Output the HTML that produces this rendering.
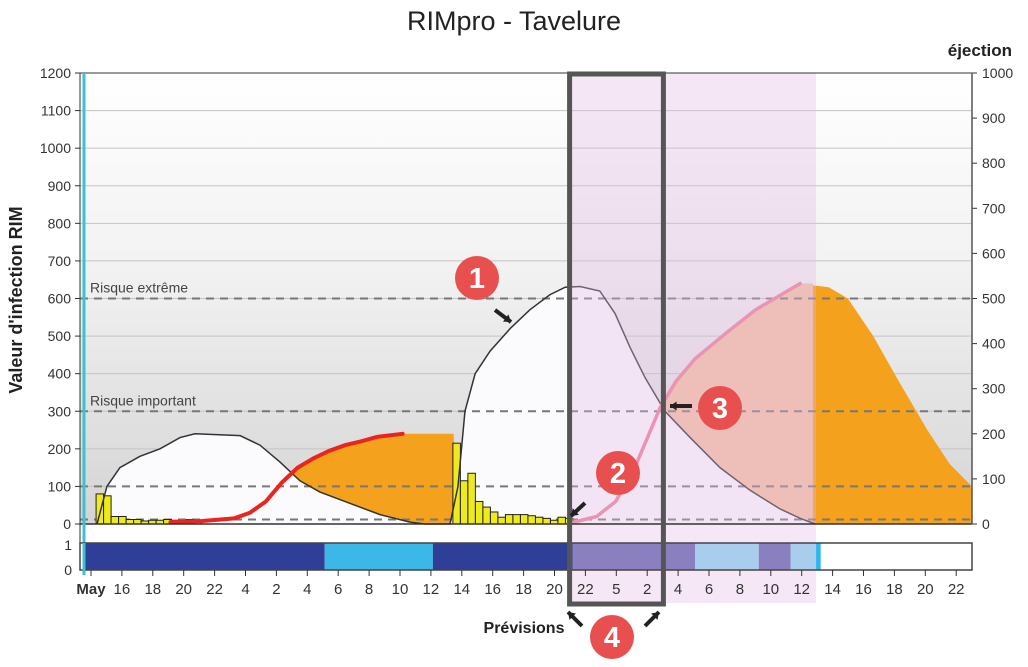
<!DOCTYPE html>
<html><head><meta charset="utf-8"><style>
html,body{margin:0;padding:0;background:#fff;width:1028px;height:667px;overflow:hidden}
svg{display:block;font-family:"Liberation Sans",sans-serif}
</style></head><body>
<svg id="c" width="1028" height="667" viewBox="0 0 1028 667">
<defs><linearGradient id="bg" x1="0" y1="0" x2="0" y2="1"><stop offset="0" stop-color="#ffffff"/><stop offset="0.45" stop-color="#f1f1f1"/><stop offset="1" stop-color="#d4d4d4"/></linearGradient></defs>
<text x="514" y="30" text-anchor="middle" font-size="27" fill="#222">RIMpro - Tavelure</text>
<text x="1012" y="56" text-anchor="end" font-size="17" font-weight="bold" fill="#222">éjection</text>
<text transform="translate(22,300) rotate(-90)" text-anchor="middle" font-size="18" font-weight="bold" fill="#222">Valeur d'infection RIM</text>
<text x="524" y="633" text-anchor="middle" font-size="16" font-weight="bold" fill="#222">Prévisions</text>
<g id="plot"></g>
</svg>
<script>
// ---- data ----
const xTickLabels=["May","16","18","20","22","4","2","4","6","8","10","12","14","16","18","20","22","5","2","4","6","8","10","12","14","16","18","20","22"];
const tickStep=0.9717;
const leftTicks=[0,100,200,300,400,500,600,700,800,900,1000,1100,1200];
const rightTicks=[0,100,200,300,400,500,600,700,800,900,1000];
const riskLevels=[600,300,100,12];
const riskLabels=["Risque extrême","Risque important","",""];
const rimT=[0.19,0.5,0.91,1.54,2.17,2.8,3.27,4.69,5.31,5.94,6.57,7.2,8.14,9.09,10.03,10.5,11.29,11.54,11.76,12.08,12.55,13.18,13.8,14.43,14.91,15.38,16.0,16.48,16.95,17.42,18.05,18.84,19.78,20.72,21.67,22.3,22.77];
const rimV=[0,100,150,180,200,230,240,235,210,165,115,85,55,25,5,0,0,100,300,400,460,520,570,610,630,632,620,560,470,390,300,230,150,90,40,15,0];
const ej1T=[2.5,3.5,4.5,5.0,5.5,6.0,6.5,7.0,7.5,8.0,8.5,9.0,9.8];
const ej1V=[5,8,15,30,60,110,150,175,195,210,220,232,240];
const ej1FlatEnd=11.4;
const ej2T=[15.2,15.9,16.5,17.1,17.6,17.9,18.4,19.0,20.0,20.9,22.3];
const ej2V=[5,20,60,150,250,310,380,440,510,570,640];
const ej3T=[22.7,23.2,23.8,24.6,25.4,26.3,27.0,27.7];
const ej3V=[635,630,600,500,380,250,160,100];
const bars1Start=0.16, bars2Start=11.38, barW=0.236;
const bars1=[80,75,20,20,12,12,8,10,10,12,10,8,12,10];
const bars2=[215,115,135,60,45,32,18,25,25,25,22,18,15,10,18,15];
const segStart=[-0.35,7.35,10.75,15.15,19.0,21.0,22.0,22.8,22.95];
const segEnd=[7.35,10.75,15.15,19.0,21.0,22.0,22.8,22.95,27.95];
const segKind=["dark","light","dark","purple","pale","purple","pale","cyan","none"];
const forecastStart=15.1, forecastEnd=22.8, boxStart=15.05, boxEnd=18.0;

// ---- scales ----
const X0=91,DX=31.8,Y0=524,YT=73,PL=80,PR=972;
const x=t=>X0+t*DX;
const y=v=>Y0-(v/1200)*(Y0-YT);
const yr=v=>Y0-(v/1000)*(Y0-YT);
const NS="http://www.w3.org/2000/svg";
const g=document.getElementById('plot');
function el(tag,attrs,parent){const e=document.createElementNS(NS,tag);for(const k in attrs)e.setAttribute(k,attrs[k]);(parent||g).appendChild(e);return e;}

el('rect',{x:PL,y:YT,width:PR-PL,height:Y0-YT,fill:'url(#bg)'});
leftTicks.forEach(v=>{
  const l=el('line',{x1:PL,x2:PR,y1:y(v),y2:y(v),stroke:'#c4c4c4','stroke-width':1});
  
  
  el('line',{x1:PL-5,x2:PL,y1:y(v),y2:y(v),stroke:'#333'});
  const t=el('text',{x:PL-9,y:y(v)+5,'text-anchor':'end','font-size':14,fill:'#333'});
  t.textContent=v;
  
  
});
rightTicks.forEach(v=>{
  el('line',{x1:PR,x2:PR+5,y1:yr(v),y2:yr(v),stroke:'#333'});
  const t=el('text',{x:PR+10,y:yr(v)+5,'font-size':14,fill:'#333'});
  t.textContent=v;
  
  
});

const pts=(T,V)=>T.map((t,i)=>x(t)+','+y(V[i])).join(' ');
let p1=pts(ej1T,ej1V)+' '+x(ej1FlatEnd)+','+y(ej1V[ej1V.length-1])+' '+x(ej1FlatEnd+0.15)+','+Y0+' '+x(ej1T[0])+','+Y0;
let a=el('polygon',{points:p1,fill:'#f4a11e'});


let p2=pts(ej2T,ej2V)+' '+x(ej3T[0])+','+y(ej2V[ej2V.length-1])+' '+x(ej3T[0])+','+Y0+' '+x(ej2T[0])+','+Y0;
a=el('polygon',{points:p2,fill:'#f5c2a2'});


let p3=x(ej3T[0])+','+Y0+' '+pts(ej3T,ej3V)+' '+PR+','+y(ej3V[ej3V.length-1])+' '+PR+','+Y0;
a=el('polygon',{points:p3,fill:'#f4a11e'});


let pr=x(rimT[0])+','+Y0+' '+pts(rimT,rimV)+' '+x(rimT[rimT.length-1])+','+Y0;
a=el('polygon',{points:pr,fill:'#fbfbfd'});


riskLevels.forEach((v,i)=>{
  const l=el('line',{x1:PL,x2:PR,y1:y(v),y2:y(v),stroke:'#777','stroke-width':2,'stroke-dasharray':'8 6'});
  
  
  if(riskLabels[i]){const t=el('text',{x:90,y:y(v)-6,'font-size':14,fill:'#444'});t.textContent=riskLabels[i];
  
  }
});
[[bars1Start,bars1],[bars2Start,bars2]].forEach(([s,arr])=>arr.forEach((v,i)=>{
  const r=el('rect',{x:x(s+i*barW),y:y(v),width:barW*DX,height:Y0-y(v),fill:'#eeea1c',stroke:'#222','stroke-width':1});
  
  
}));
let l=el('polyline',{points:pts(rimT,rimV),fill:'none',stroke:'#333','stroke-width':1.5});


l=el('polyline',{points:pts(ej1T,ej1V),fill:'none',stroke:'#e8261f','stroke-width':4,'stroke-linecap':'round'});


l=el('polyline',{points:pts(ej2T,ej2V),fill:'none',stroke:'#f07f9a','stroke-width':3.5,'stroke-linecap':'round'});


let f=el('rect',{x:x(forecastStart),y:YT,width:x(forecastEnd)-x(forecastStart),height:603-YT,fill:'rgba(225,185,225,0.35)'});


el('line',{x1:PL,x2:PR,y1:YT,y2:YT,stroke:'#333'});
el('line',{x1:PL,x2:PR,y1:Y0,y2:Y0,stroke:'#333','stroke-width':1.5});
el('line',{x1:PL,x2:PL,y1:YT,y2:570,stroke:'#333'});
el('line',{x1:PR,x2:PR,y1:YT,y2:Y0,stroke:'#555','stroke-width':1.5});
el('line',{x1:84,x2:84,y1:YT,y2:575,stroke:'#3cc0d8','stroke-width':3});
const segCol={dark:'#2f3f98',light:'#3cb8e8',purple:'#8a80c0',pale:'#a9cdec',cyan:'#30b6ee',none:'#ffffff'};
segStart.forEach((s,i)=>{
  const r=el('rect',{x:Math.max(PL+5,x(s)),y:543,width:x(segEnd[i])-Math.max(PL+5,x(s)),height:27,fill:segCol[segKind[i]]});
  
  
});
el('rect',{x:PL,y:543,width:PR-PL,height:27,fill:'none',stroke:'#444','stroke-width':1.5});
el('line',{x1:84,x2:84,y1:543,y2:575,stroke:'#3cc0d8','stroke-width':3});
[[1,545],[0,570]].forEach(([v,yy])=>{const t=el('text',{x:72,y:yy+5,'text-anchor':'end','font-size':14,fill:'#333'});t.textContent=v;

});
xTickLabels.forEach((s,i)=>{
  const xx=x(i*tickStep);
  el('line',{x1:xx,x2:xx,y1:570,y2:576,stroke:'#333'});
  const t=el('text',{x:xx,y:594,'text-anchor':'middle','font-size':15,fill:'#333','font-weight':i==0?'bold':'normal'});
  t.textContent=s;
  
  
});
let b=el('rect',{x:x(boxStart),y:74,width:x(boxEnd)-x(boxStart),height:530,fill:'none',stroke:'#555','stroke-width':5});


function arrow(x1,y1,x2,y2){el('line',{x1:x1,y1:y1,x2:x2,y2:y2,stroke:'#222','stroke-width':4});
  const ang=Math.atan2(y2-y1,x2-x1),s=8;
  el('polygon',{points:`${x2},${y2} ${x2-s*Math.cos(ang-0.6)},${y2-s*Math.sin(ang-0.6)} ${x2-s*Math.cos(ang+0.6)},${y2-s*Math.sin(ang+0.6)}`,fill:'#222'});}
arrow(495,310,511,322);arrow(585,503,571,516);arrow(692,406,670,406);arrow(582,626,568,612);arrow(645,626,659,612);
[["1",477,278],["2",618,473],["3",720,408],["4",612,637]].forEach(([n,cx,cy])=>{
  const c=el('circle',{cx:cx,cy:cy,r:22,fill:'#e8504f'});
  
  
  const t=el('text',{x:cx,y:cy+10,'text-anchor':'middle','font-size':29,fill:'#fff','font-weight':'bold'});t.textContent=n;
});
</script>
</body></html>
